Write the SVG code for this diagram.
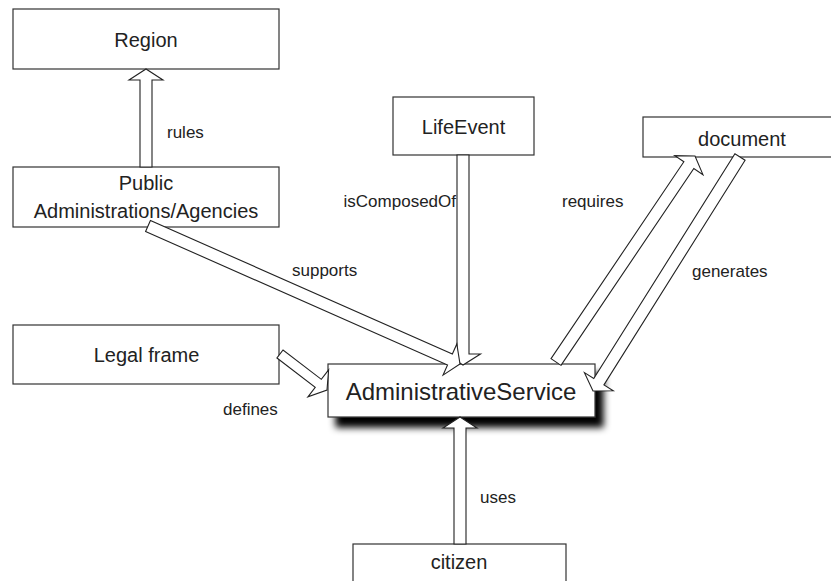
<svg xmlns="http://www.w3.org/2000/svg" width="831" height="581" viewBox="0 0 831 581">
<defs>
<filter id="shadow" x="-10%" y="-30%" width="130%" height="180%">
<feGaussianBlur in="SourceAlpha" stdDeviation="3.5"/>
<feOffset dx="8" dy="10" result="b"/>
<feMerge><feMergeNode in="b"/><feMergeNode in="SourceGraphic"/></feMerge>
</filter>
</defs>
<style>
.box{fill:#fff;stroke:#333;stroke-width:1.2}
.nt{font-family:"Liberation Sans",Arial,sans-serif;font-size:20px;fill:#222;text-anchor:middle}
.big{font-size:24px}
.lb{font-family:"Liberation Sans",Arial,sans-serif;font-size:17px;fill:#222}
.arr{fill:#fff;stroke:#222;stroke-width:1.1;stroke-linejoin:miter}
</style>
<rect width="831" height="581" fill="#fff"/>
<g id="Region"><rect class="box" x="13" y="9" width="266" height="60"/><text class="nt" x="146" y="47">Region</text></g>
<g id="PublicAdministrations"><rect class="box" x="13" y="167" width="266" height="60"/><text class="nt" x="146" y="190">Public</text><text class="nt" x="146" y="218">Administrations/Agencies</text></g>
<g id="LifeEvent"><rect class="box" x="393" y="97" width="141" height="58"/><text class="nt" x="463.5" y="134">LifeEvent</text></g>
<g id="document"><rect class="box" x="643" y="117" width="200" height="40"/><text class="nt" x="742" y="146">document</text></g>
<g id="LegalFrame"><rect class="box" x="13" y="325" width="266" height="59"/><text class="nt" x="146.5" y="362">Legal frame</text></g>
<g id="AdministrativeService"><rect class="box" x="328" y="364" width="267" height="53" filter="url(#shadow)"/><text class="nt big" x="461" y="400">AdministrativeService</text></g>
<g id="citizen"><rect class="box" x="353" y="544" width="213" height="50"/><text class="nt" x="459" y="569">citizen</text></g>
<g id="connectors">
<polygon class="arr" points="152,167 152,80 163,80 146,69 129,80 140,80 140,167"/>
<polygon class="arr" points="469,155 469,354 480.5,354 463,365 445.5,354 457,354 457,155"/>
<polygon class="arr" points="466,544 466,428 477,428 460,417 443,428 454,428 454,544"/>
<polygon class="arr" points="145.57,231.49 447.51,365.04 443.06,375.1 460,364 456.82,344 452.37,354.06 150.43,220.51"/>
<polygon class="arr" points="276.96,357.97 315.23,387.28 307.93,396.81 327,390 328.61,369.81 321.31,379.34 283.04,350.03"/>
<polygon class="arr" points="560.97,365.36 693.82,168.48 702.94,174.63 695,156 674.76,155.61 683.88,161.76 551.03,358.64"/>
<polygon class="arr" points="745.08,160.19 603.93,384.87 613.25,390.72 593,391 584.45,372.64 593.77,378.49 734.92,153.81"/>
<text class="lb" x="167" y="138">rules</text>
<text class="lb" x="292" y="276">supports</text>
<text class="lb" x="456" y="207" text-anchor="end">isComposedOf</text>
<text class="lb" x="562" y="207">requires</text>
<text class="lb" x="692" y="277">generates</text>
<text class="lb" x="223" y="415">defines</text>
<text class="lb" x="480" y="503">uses</text>
</g>
</svg>
